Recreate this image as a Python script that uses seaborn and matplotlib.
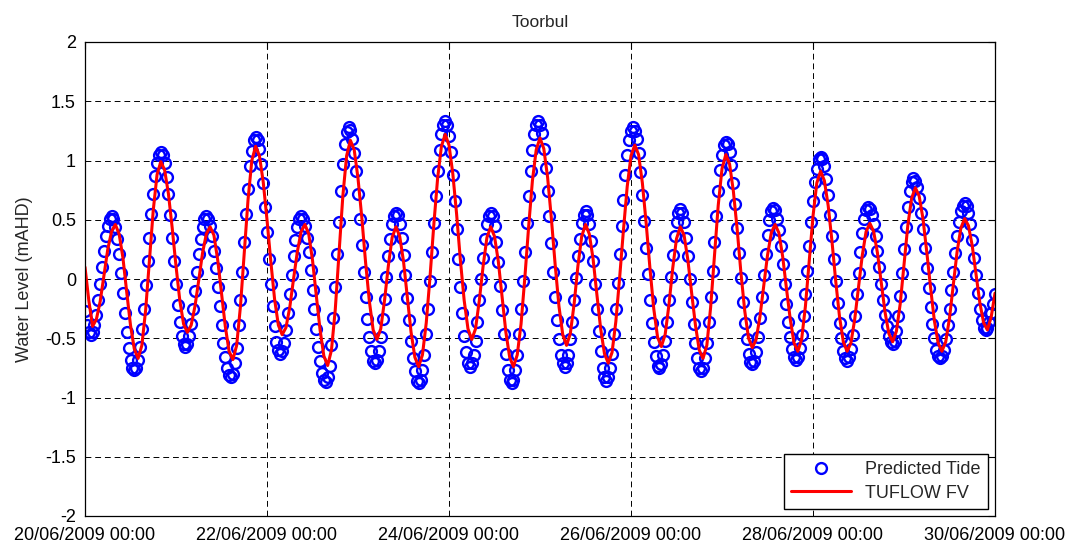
import pandas as pd
import seaborn as sns
import matplotlib
matplotlib.use("Agg")
import matplotlib.pyplot as plt
import matplotlib.dates as mdates

# Data
start_time = "2009-06-20 00:00"

# Predicted tide, every 30 minutes (mAHD)
predicted_tide = [
    -0.27, -0.39, -0.45,
    -0.47, -0.45, -0.39, -0.30, -0.18, -0.04, 0.10, 0.24, 0.36, 0.45, 0.51, 0.53,
    0.51, 0.44, 0.34, 0.21, 0.05, -0.12, -0.29, -0.45, -0.58, -0.68, -0.75, -0.77,
    -0.75, -0.68, -0.57, -0.42, -0.25, -0.05, 0.15, 0.35, 0.55, 0.72, 0.87, 0.98, 1.05, 1.07,
    1.05, 0.98, 0.86, 0.72, 0.54, 0.35, 0.15, -0.04, -0.22, -0.36, -0.48, -0.55, -0.57,
    -0.55, -0.48, -0.38, -0.25, -0.10, 0.06, 0.21, 0.34, 0.44, 0.51, 0.53,
    0.51, 0.45, 0.36, 0.24, 0.09, -0.07, -0.23, -0.39, -0.54, -0.66, -0.75, -0.81, -0.83,
    -0.80, -0.71, -0.58, -0.39, -0.18, 0.06, 0.31, 0.55, 0.76, 0.95, 1.08, 1.17, 1.20,
    1.17, 1.10, 0.97, 0.81, 0.61, 0.40, 0.17, -0.04, -0.23, -0.40, -0.53, -0.60, -0.63,
    -0.61, -0.54, -0.43, -0.29, -0.13, 0.03, 0.19, 0.33, 0.44, 0.51, 0.53,
    0.51, 0.45, 0.35, 0.23, 0.08, -0.09, -0.25, -0.42, -0.57, -0.69, -0.79, -0.85, -0.87,
    -0.83, -0.73, -0.56, -0.33, -0.07, 0.21, 0.48, 0.74, 0.97, 1.14, 1.24, 1.28,
    1.26, 1.18, 1.06, 0.91, 0.72, 0.51, 0.29, 0.06, -0.15, -0.34, -0.49, -0.61, -0.69, -0.71,
    -0.68, -0.61, -0.49, -0.34, -0.17, 0.02, 0.19, 0.34, 0.46, 0.53, 0.56,
    0.54, 0.46, 0.35, 0.20, 0.03, -0.16, -0.35, -0.52, -0.67, -0.78, -0.86, -0.88,
    -0.85, -0.77, -0.64, -0.46, -0.25, -0.02, 0.23, 0.47, 0.70, 0.91, 1.09, 1.22, 1.30, 1.33,
    1.30, 1.21, 1.07, 0.88, 0.66, 0.42, 0.17, -0.07, -0.29, -0.48, -0.62, -0.71, -0.74,
    -0.71, -0.64, -0.52, -0.36, -0.18, 0.00, 0.18, 0.34, 0.46, 0.53, 0.56,
    0.53, 0.45, 0.31, 0.14, -0.06, -0.26, -0.46, -0.63, -0.77, -0.85, -0.88,
    -0.85, -0.77, -0.64, -0.46, -0.25, -0.02, 0.23, 0.47, 0.70, 0.91, 1.09, 1.22, 1.30, 1.33,
    1.30, 1.23, 1.10, 0.94, 0.74, 0.53, 0.30, 0.06, -0.15, -0.35, -0.51, -0.64, -0.71, -0.74,
    -0.71, -0.64, -0.51, -0.36, -0.18, 0.01, 0.19, 0.34, 0.47, 0.54, 0.57,
    0.54, 0.46, 0.32, 0.15, -0.04, -0.25, -0.44, -0.61, -0.75, -0.83, -0.86,
    -0.83, -0.75, -0.63, -0.46, -0.25, -0.03, 0.21, 0.45, 0.67, 0.88, 1.05, 1.17, 1.25, 1.28,
    1.25, 1.18, 1.06, 0.90, 0.71, 0.49, 0.26, 0.04, -0.18, -0.37, -0.53, -0.65, -0.73, -0.75,
    -0.72, -0.64, -0.52, -0.36, -0.18, 0.02, 0.20, 0.36, 0.48, 0.56, 0.59,
    0.56, 0.48, 0.35, 0.19, 0.00, -0.19, -0.38, -0.54, -0.67, -0.75, -0.78,
    -0.75, -0.67, -0.54, -0.36, -0.15, 0.07, 0.31, 0.53, 0.74, 0.92, 1.05, 1.13, 1.16,
    1.14, 1.07, 0.96, 0.81, 0.63, 0.43, 0.22, 0.01, -0.19, -0.37, -0.51, -0.63, -0.70, -0.72,
    -0.69, -0.62, -0.49, -0.33, -0.15, 0.03, 0.21, 0.37, 0.50, 0.57, 0.60,
    0.58, 0.51, 0.41, 0.28, 0.13, -0.04, -0.21, -0.36, -0.49, -0.59, -0.66, -0.68,
    -0.66, -0.58, -0.47, -0.31, -0.13, 0.07, 0.28, 0.48, 0.66, 0.82, 0.93, 1.01, 1.03,
    1.01, 0.95, 0.84, 0.71, 0.54, 0.36, 0.17, -0.02, -0.20, -0.37, -0.50, -0.61, -0.67, -0.69,
    -0.66, -0.59, -0.47, -0.31, -0.13, 0.05, 0.23, 0.39, 0.51, 0.58, 0.61,
    0.59, 0.54, 0.46, 0.36, 0.24, 0.10, -0.04, -0.18, -0.30, -0.40, -0.48, -0.53, -0.55,
    -0.52, -0.44, -0.31, -0.14, 0.05, 0.25, 0.44, 0.61, 0.74, 0.82, 0.85,
    0.83, 0.78, 0.68, 0.56, 0.42, 0.26, 0.09, -0.08, -0.24, -0.38, -0.50, -0.60, -0.65, -0.67,
    -0.65, -0.60, -0.51, -0.39, -0.25, -0.09, 0.06, 0.22, 0.36, 0.48, 0.57, 0.62, 0.64,
    0.62, 0.56, 0.46, 0.33, 0.18, 0.03, -0.12, -0.25, -0.35, -0.41, -0.43,
    -0.41, -0.36, -0.29, -0.21, -0.13,
]

# TUFLOW FV model output, hourly (mAHD)
tuflow_fv = [
    0.10, -0.18, -0.40,
    -0.34, -0.19, 0.03, 0.25, 0.40, 0.46,
    0.38, 0.18, -0.11, -0.39, -0.59, -0.67,
    -0.56, -0.26, 0.16, 0.58, 0.88, 0.99,
    0.92, 0.72, 0.43, 0.11, -0.18, -0.38, -0.45,
    -0.39, -0.23, -0.01, 0.22, 0.38, 0.44,
    0.37, 0.16, -0.12, -0.40, -0.61, -0.68,
    -0.56, -0.23, 0.22, 0.67, 1.00, 1.12,
    1.04, 0.82, 0.50, 0.15, -0.17, -0.39, -0.47,
    -0.41, -0.24, 0.00, 0.23, 0.40, 0.46,
    0.38, 0.16, -0.14, -0.43, -0.65, -0.73,
    -0.60, -0.26, 0.22, 0.70, 1.04, 1.17,
    1.09, 0.85, 0.52, 0.14, -0.19, -0.43, -0.51,
    -0.42, -0.18, 0.11, 0.35, 0.44,
    0.36, 0.15, -0.15, -0.45, -0.66, -0.74,
    -0.64, -0.37, 0.02, 0.46, 0.85, 1.12, 1.22,
    1.13, 0.89, 0.55, 0.16, -0.18, -0.42, -0.51,
    -0.42, -0.18, 0.11, 0.35, 0.44,
    0.36, 0.15, -0.15, -0.45, -0.66, -0.74,
    -0.64, -0.38, 0.01, 0.44, 0.83, 1.09, 1.19,
    1.10, 0.86, 0.51, 0.12, -0.23, -0.47, -0.56,
    -0.46, -0.21, 0.11, 0.36, 0.46,
    0.38, 0.17, -0.13, -0.42, -0.63, -0.71,
    -0.62, -0.36, 0.01, 0.41, 0.78, 1.04, 1.13,
    1.05, 0.81, 0.47, 0.09, -0.25, -0.49, -0.57,
    -0.47, -0.22, 0.09, 0.34, 0.44,
    0.37, 0.16, -0.12, -0.39, -0.60, -0.67,
    -0.56, -0.24, 0.19, 0.62, 0.93, 1.05,
    0.97, 0.74, 0.42, 0.05, -0.27, -0.50, -0.58,
    -0.51, -0.32, -0.06, 0.20, 0.39, 0.46,
    0.39, 0.19, -0.08, -0.34, -0.54, -0.61,
    -0.51, -0.23, 0.15, 0.53, 0.81, 0.91,
    0.83, 0.62, 0.32, -0.02, -0.32, -0.53, -0.61,
    -0.54, -0.34, -0.07, 0.20, 0.40, 0.47,
    0.40, 0.22, -0.03, -0.28, -0.46, -0.53,
    -0.44, -0.21, 0.12, 0.45, 0.68, 0.77,
    0.70, 0.51, 0.23, -0.07, -0.35, -0.54, -0.61,
    -0.53, -0.33, -0.05, 0.23, 0.43, 0.51,
    0.45, 0.28, 0.04, -0.20, -0.37, -0.43,
    -0.32, -0.12,
]

x_tick_dates = ["2009-06-20", "2009-06-22", "2009-06-24",
                "2009-06-26", "2009-06-28", "2009-06-30"]
y_ticks = [-2, -1.5, -1, -0.5, 0, 0.5, 1, 1.5, 2]
y_tick_labels = ["-2", "-1.5", "-1", "-0.5", "0", "0.5", "1", "1.5", "2"]

pred_df = pd.DataFrame({
    "time": pd.date_range(start_time, periods=len(predicted_tide), freq="30min"),
    "level": predicted_tide,
})
model_df = pd.DataFrame({
    "time": pd.date_range(start_time, periods=len(tuflow_fv), freq="60min"),
    "level": tuflow_fv,
})

# Style setup
sns.set_style("white")
plt.rcParams["font.family"] = ["Liberation Sans", "DejaVu Sans"]
plt.rcParams["axes.unicode_minus"] = False

fig = plt.figure(figsize=(10.77, 5.45), dpi=100)
ax = fig.add_axes([85 / 1077, 1 - 516 / 545, 910 / 1077, 474 / 545])

sns.lineplot(data=pred_df, x="time", y="level", ax=ax, estimator=None, sort=False,
             linestyle="none", marker="o", markersize=7.8, color="blue",
             markerfacecolor="none", markeredgecolor="blue", markeredgewidth=1.7,
             label="Predicted Tide")
sns.lineplot(data=model_df, x="time", y="level", ax=ax, estimator=None, sort=False,
             color="red", linewidth=2.2, label="TUFLOW FV")

ax.set_xlim(pd.Timestamp("2009-06-20"), pd.Timestamp("2009-06-30"))
ax.set_ylim(-2, 2)
ax.set_xticks(pd.to_datetime(x_tick_dates))
ax.xaxis.set_major_formatter(mdates.DateFormatter("%d/%m/%Y %H:%M"))
ax.set_yticks(y_ticks)
ax.set_yticklabels(y_tick_labels)

ax.grid(True, linestyle=(0, (6, 4)), color="black", linewidth=0.7)
ax.set_axisbelow(True)
ax.tick_params(direction="in", top=True, right=True, length=5, width=0.8,
               labelsize=13, colors="black")
ax.tick_params(axis="x", pad=8)
ax.tick_params(axis="y", pad=6.5)
for spine in ax.spines.values():
    spine.set_color("black")
    spine.set_linewidth(0.9)

ax.set_title("Toorbul", fontsize=12.5, pad=11)
ax.set_xlabel("")
ax.set_ylabel("Water Level (mAHD)", fontsize=13, labelpad=9)

ax.legend(loc="lower right", fontsize=13, frameon=True, fancybox=False,
          edgecolor="black", framealpha=1, borderaxespad=0.4,
          handlelength=3.3, numpoints=1, borderpad=0.4, labelspacing=0.35)

fig.savefig("out.png", dpi=100)
